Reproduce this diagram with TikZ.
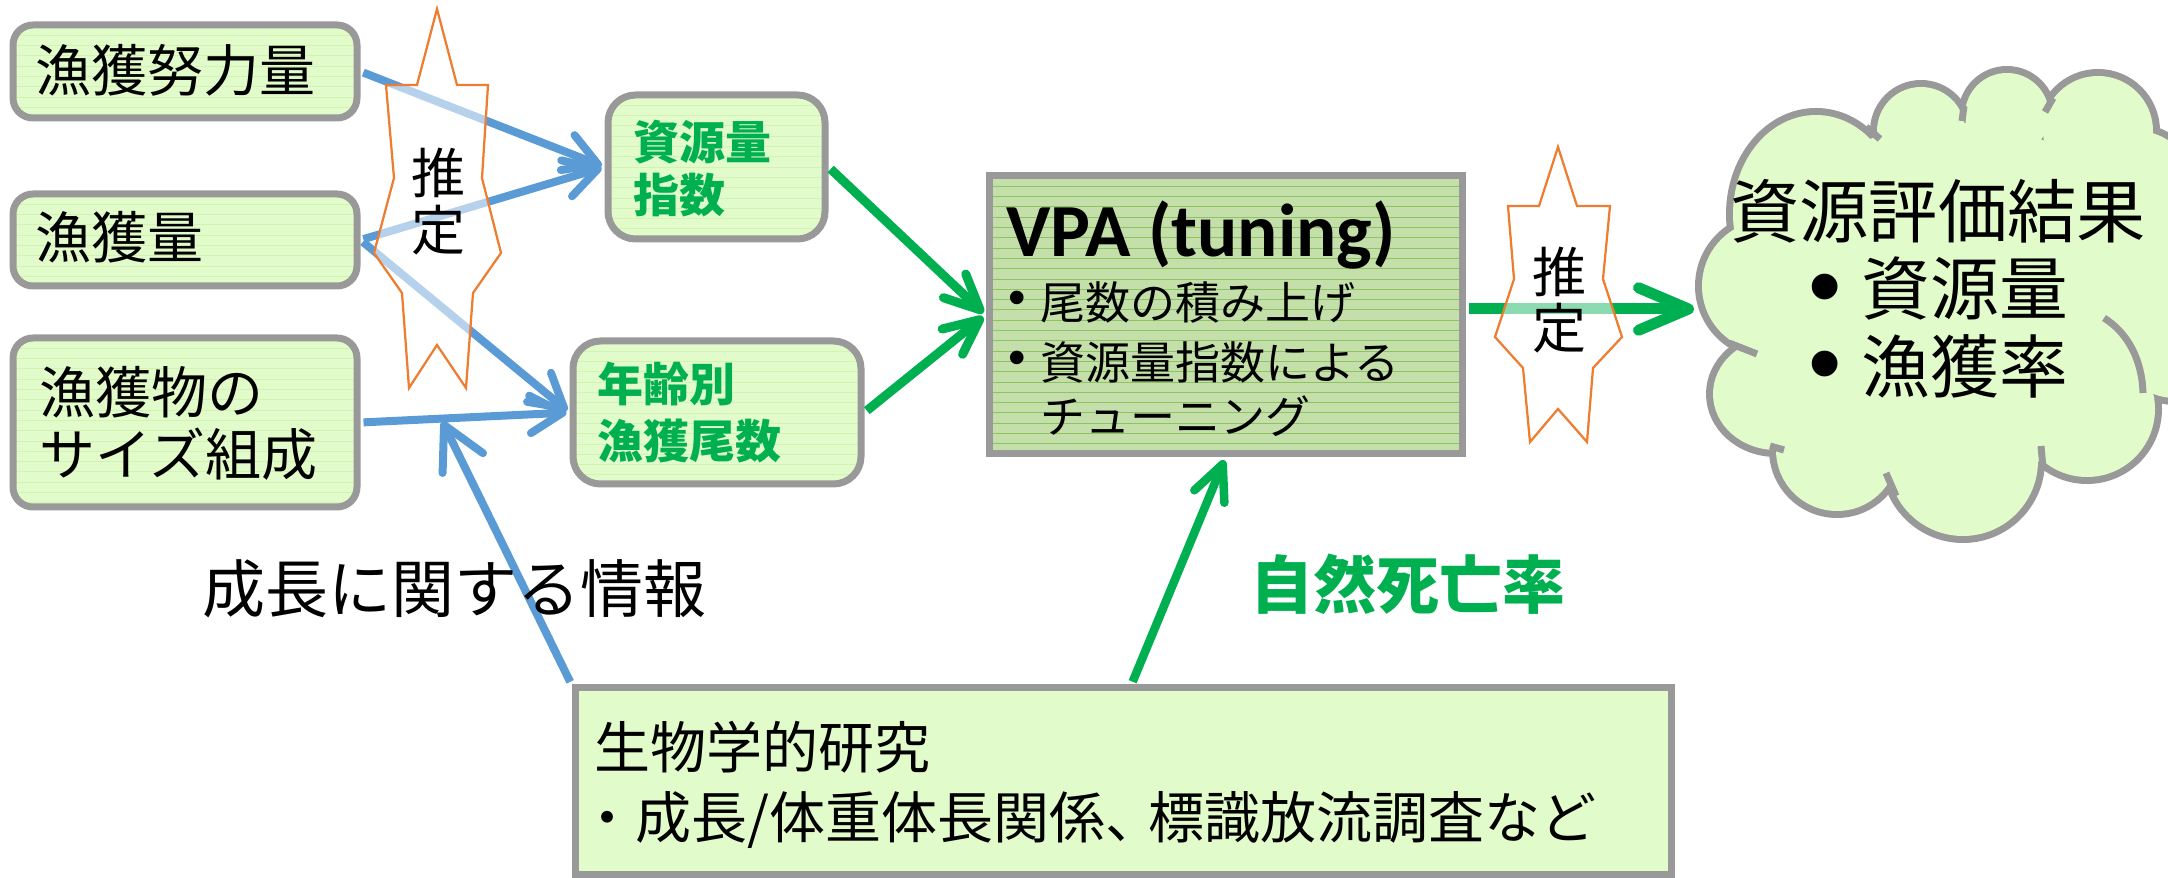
\documentclass[tikz,border=0pt]{standalone}
\usepackage{fontspec}
\setmainfont{Noto Sans CJK JP}
\newfontfamily\calfont{Carlito}
\newfontfamily\libfont{Liberation Sans}
\usetikzlibrary{arrows.meta,calc}
\definecolor{boxfill}{RGB}{226,251,203}
\definecolor{vpafill}{RGB}{196,223,170}
\definecolor{edge}{RGB}{153,153,153}
\definecolor{bl}{RGB}{91,155,213}
\definecolor{gr}{RGB}{0,176,80}
\definecolor{orng}{RGB}{237,125,49}
\definecolor{stripeL}{RGB}{212,242,178}
\definecolor{stripeV}{RGB}{140,196,100}
\newcommand\myfs[1]{\fontsize{#1}{#1}\selectfont}
\begin{document}
\begin{tikzpicture}[x=0.4pt,y=-0.4pt,
  stripes/.style={path picture={\foreach \k in {1,...,45}{\draw[#1,line width=0.35pt] ([yshift=-\k*4.12pt]path picture bounding box.north west) -- ([yshift=-\k*4.12pt]path picture bounding box.north east);}}},
  sz/.style 2 args={minimum width=#1*0.4pt, minimum height=#2*0.4pt},
  box/.style={draw=edge,line width=2.8pt,fill=boxfill,inner sep=0pt},
  rbox/.style={box,rounded corners=8pt,stripes=stripeL},
  barrow/.style={draw=bl,line width=3.2pt,-{Straight Barb[length=13pt,width=15pt,round]},shorten <=1.2pt,shorten >=1.2pt},
  garrow/.style={draw=gr,line width=3.6pt,-{Straight Barb[length=14pt,width=13pt,round]},shorten <=1.2pt,shorten >=1.2pt},
  starsty/.style={draw=orng,line width=0.9pt,fill=white,fill opacity=0.55,line join=miter},
  stub/.style={draw=edge,line width=2.8pt},
  txt/.style={inner sep=0pt,anchor=base west},
  ctxt/.style={inner sep=0pt,anchor=base},
  bul/.style={inner sep=0pt,font=\libfont}
]
\useasboundingbox (0,0) rectangle (2168,878);

% cloud
\begin{scope}
\clip (1600,0) rectangle (2168,878);
\foreach \cx/\cy/\rx/\ry in {1921/131/44/44,2007/115/42/42,2098/131/55/55,2137/198/61/67,2175/321/67/77,2087/409/68/68,1963/461/75/75,1837/450/61/61,1776/394/63/56,1768/286/66/66,1816/214/83/99}
  \draw[edge,line width=5.6pt] (\cx,\cy) ellipse [x radius={\rx*0.4pt}, y radius={\ry*0.4pt}];
\foreach \cx/\cy/\rx/\ry in {1921/131/44/44,2007/115/42/42,2098/131/55/55,2137/198/61/67,2175/321/67/77,2087/409/68/68,1963/461/75/75,1837/450/61/61,1776/394/63/56,1768/286/66/66,1816/214/83/99,1955/300/204/177}
  \fill[boxfill] (\cx,\cy) ellipse [x radius={\rx*0.4pt}, y radius={\ry*0.4pt}];
\draw[stub] (2104,318) .. controls (2128,333) and (2142,360) .. (2143,393);
\draw[stub] (1729,343) -- (1757,354);
\draw[stub] (1770,446) -- (1784,450);
\draw[stub] (1886,473) -- (1896,496);
\draw[stub] (2041,446) -- (2043,468);
\draw[stub] (1880,139) -- (1866,127);
\draw[stub] (1962,121) -- (1964,106);
\draw[stub] (2045,112) -- (2053,98);
\end{scope}
\coordinate (cloudW) at (1697,309);

% boxes
\node[rbox, sz={344}{93}] (b1) at (185,71.5) {};
\node[rbox, sz={344}{92}] (b2) at (185,240) {};
\node[rbox, sz={344}{169}] (b3) at (185,422.5) {};
\node[rbox, rounded corners=11pt, sz={217}{144}] (bIdx) at (716.5,167) {};
\node[rbox, rounded corners=11pt, sz={288}{143}] (bAge) at (717,412.5) {};
\node[box, fill=vpafill, stripes=stripeV, sz={473}{278}] (VPA) at (1225.5,315) {};
\node[box, sz={1096}{186}] (bBio) at (1123,781) {};

% blue arrows
\draw[barrow] (b1.east) -- (bIdx.west);
\draw[barrow] (b2.east) -- (bIdx.west);
\draw[barrow] (b2.east) -- (bAge.west);
\draw[barrow] (b3.east) -- (bAge.west);
\coordinate (meet) at ($(b3.east)!0.385!(bAge.west)$);
\draw[barrow,-{Straight Barb[length=17pt,width=18pt,round]}] (bBio.north west) -- (meet);

% green arrows
\draw[garrow] (bIdx.east) -- (VPA.west);
\draw[garrow] (bAge.east) -- (VPA.west);
\draw[garrow,line width=4.4pt,-{Straight Barb[length=20pt,width=17pt,round]}] (VPA.east |- cloudW) -- (cloudW);
\draw[garrow,line width=3.4pt] ($(bBio.north west)+(560,0)$) -- (VPA.south);

% stars
\draw[starsty] (437,9) -- (457,85) -- (488,85) -- (482,178) -- (501,253) -- (473,293) -- (466,388) -- (437,345) -- (409,388) -- (402,293) -- (374,253) -- (394,178) -- (386,85) -- (417,85) -- cycle;
\draw[starsty] (1558,147) -- (1577,206) -- (1610,206) -- (1603,279) -- (1622,337) -- (1593,368) -- (1587,442) -- (1558,409) -- (1530,442) -- (1523,368) -- (1495,337) -- (1514,279) -- (1508,206) -- (1539,206) -- cycle;

% texts
\node[txt,font=\myfs{22.4}] (t1) at (35,92) {漁獲努力量};
\node[txt,font=\myfs{22.4}] (t2) at (35,259) {漁獲量};
\node[txt,font=\myfs{22.4}] (t3a) at (39,414) {漁獲物の};
\node[txt,font=\myfs{22.4}] (t3b) at (39,476) {サイズ組成};
\node[txt,font=\bfseries\myfs{18.4},text=gr] (ti1) at (633,160) {資源量};
\node[txt,font=\bfseries\myfs{18.4},text=gr] (ti2) at (633,213) {指数};
\node[txt,font=\bfseries\myfs{18.4},text=gr] (ta1) at (597,402) {年齢別};
\node[txt,font=\bfseries\myfs{18.4},text=gr] (ta2) at (597,459) {漁獲尾数};
\node[txt,font=\calfont\bfseries\myfs{30}] (tv) at (1006,257) {VPA (tuning)};
\node[bul,font=\libfont\myfs{20}] (vb1) at (1017,303) {•};
\node[bul,font=\libfont\myfs{20}] (vb2) at (1017,363) {•};
\node[txt,font=\myfs{18}] (tv1) at (1040,320) {尾数の積み上げ};
\node[txt,font=\myfs{18}] (tv2) at (1040,380) {資源量指数による};
\node[txt,font=\myfs{18}] (tv3) at (1040,434) {チューニング};
\node[ctxt,font=\myfs{21.6}] (s1a) at (438,194) {推};
\node[ctxt,font=\myfs{21.6}] (s1b) at (438,251) {定};
\node[ctxt,font=\myfs{21.6}] (s2a) at (1559,293) {推};
\node[ctxt,font=\myfs{21.6}] (s2b) at (1559,349) {定};
\node[ctxt,font=\myfs{27.7}] (c0) at (1938,238) {資源評価結果};
\node[bul,font=\libfont\myfs{38}] (cb1) at (1825,296) {•};
\node[bul,font=\libfont\myfs{38}] (cb2) at (1825,373) {•};
\node[txt,font=\myfs{27.5}] (c1) at (1861,315) {資源量};
\node[txt,font=\myfs{27.5}] (c2) at (1861,393) {漁獲率};
\node[txt,font=\myfs{25.2}] (tg) at (202,613) {成長に関する情報};
\node[txt,font=\bfseries\myfs{25.2},text=gr] (tm) at (1250,609) {自然死亡率};
\node[txt,font=\myfs{22.4}] (tb1) at (594,769) {生物学的研究};
\node[txt,font=\myfs{22.4}] (tb2) at (579,838) {・成長/体重体長関係、\kern-0.23em標識放流調査など};
\end{tikzpicture}
\end{document}
